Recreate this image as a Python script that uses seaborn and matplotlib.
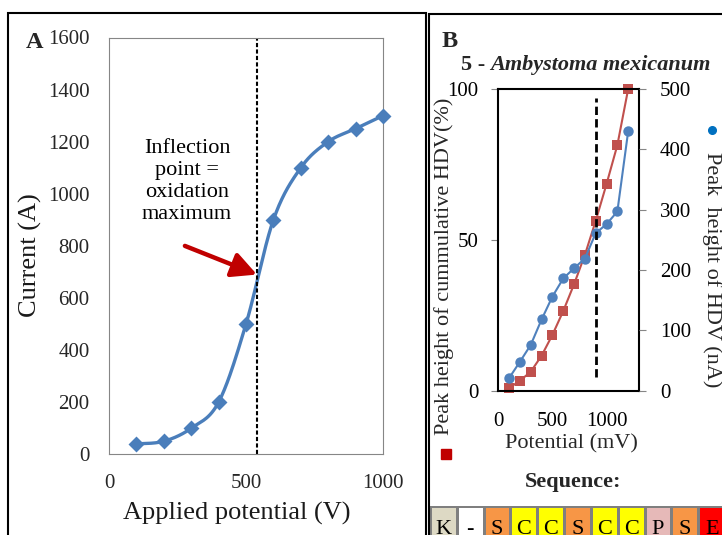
import numpy as np
import matplotlib
matplotlib.use("Agg")
import matplotlib.pyplot as plt
from matplotlib.colors import ListedColormap
from matplotlib.lines import Line2D
from matplotlib.patches import Rectangle
import seaborn as sns

# ---- Panel A: current response versus applied potential ----
potential_a = [100, 200, 300, 400, 500, 600, 700, 800, 900, 1000]
current_a = [40, 50, 100, 200, 500, 900, 1100, 1200, 1250, 1300]
inflection_a = 540
arrow_start = (277, 800)
arrow_end = (540, 690)
callout_xy = (285, 1047)
callout_text = "Inflection\npoint =\noxidation\nmaximum"

# ---- Panel B: HDV oxidation, Ambystoma mexicanum ----
potential_b = [100, 200, 300, 400, 500, 600, 700, 800, 900, 1000, 1100, 1200]
cumulative_pct = [0.9, 3.3, 6.3, 11.6, 18.5, 26.4, 35.3, 45.0, 56.3, 68.5, 81.4, 100.0]
peak_na = [21, 48, 76, 118, 156, 186, 203, 219, 261, 276, 297, 430]
threshold_b = 900

sequence = ["K", "-", "S", "C", "C", "S", "C", "C", "P", "S", "E"]
residue_colors = {"K": "#ddd9c4", "-": "#ffffff", "S": "#f79646",
                  "C": "#ffff00", "P": "#e6b9b8", "E": "#ff0000"}

W, H = 722, 535


def fx(px):
    return px / W


def fy(py):
    return 1 - py / H


def excel_smooth(x, y, steps=30):
    """Smoothed polyline through the points (cubic Bezier, Catmull-Rom handles)."""
    pts = np.column_stack([x, y]).astype(float)
    ext = np.vstack([pts[0], pts, pts[-1]])
    t = np.linspace(0, 1, steps)[:, None]
    segs = []
    for i in range(1, len(ext) - 2):
        p0, p1, p2, p3 = ext[i - 1], ext[i], ext[i + 1], ext[i + 2]
        c1 = p1 + (p2 - p0) / 6
        c2 = p2 - (p3 - p1) / 6
        seg = ((1 - t) ** 3) * p1 + 3 * ((1 - t) ** 2) * t * c1 \
            + 3 * (1 - t) * t ** 2 * c2 + t ** 3 * p2
        segs.append(seg if i == 1 else seg[1:])
    curve = np.vstack(segs)
    return curve[:, 0], curve[:, 1]


sns.set_style("white")
plt.rcParams["font.family"] = ["Liberation Serif", "DejaVu Serif"]

fig = plt.figure(figsize=(W / 100, H / 100), dpi=100)
fig.patch.set_facecolor("white")

# panel frames
fig.add_artist(Rectangle((fx(8), fy(560)), (425.5 - 8) / W, (560 - 12.6) / H,
                         transform=fig.transFigure, fill=False, lw=1.5, ec="black"))
fig.add_artist(Rectangle((fx(428.5), fy(560)), (760 - 428.5) / W, (560 - 13.5) / H,
                         transform=fig.transFigure, fill=False, lw=1.5, ec="black"))

# ---------------- Panel A ----------------
axA = fig.add_axes([fx(109), fy(454.3), (383 - 109) / W, (454.3 - 37.5) / H])
sx, sy = excel_smooth(potential_a, current_a)
sns.lineplot(x=sx, y=sy, ax=axA, color="#4a7ebb", lw=2.4, sort=False,
             estimator=None, errorbar=None, clip_on=False)
sns.scatterplot(x=potential_a, y=current_a, ax=axA, marker="D", s=66,
                color="#4a7ebb", linewidth=0, clip_on=False, zorder=3)
axA.axvline(inflection_a, color="black", lw=1.5, ls=(0, (2, 1.1)), zorder=2)
axA.annotate("", xy=arrow_end, xytext=arrow_start,
             arrowprops=dict(arrowstyle="-|>,head_length=0.75,head_width=0.38",
                             color="#c00000", lw=3.2, mutation_scale=20,
                             shrinkA=0, shrinkB=0), zorder=4)
axA.text(*callout_xy, callout_text, ha="center", va="center", fontsize=16,
         linespacing=1.2, color="black")
axA.set_xlim(0, 1000)
axA.set_ylim(0, 1600)
axA.set_xticks([0, 500, 1000])
axA.set_yticks(np.arange(0, 1601, 200))
for s in axA.spines.values():
    s.set_visible(True)
    s.set_color("#868686")
    s.set_linewidth(0.8)
axA.tick_params(direction="out", length=5, width=0.8, color="#868686",
                labelsize=15, labelcolor="#262626", pad=9)
axA.set_xlabel("Applied potential (V)", fontsize=19, va="baseline", color="#1a1a1a")
axA.xaxis.set_label_coords((236.7 - 109) / 274, (454.3 - 520) / 416.8)
axA.set_ylabel("Current (A)", fontsize=19, va="center", color="#1a1a1a")
axA.yaxis.set_label_coords((30 - 109) / 274, (454.3 - 255.6) / 416.8)
fig.text(fx(34.5), fy(47.5), "A", fontsize=17.5, fontweight="bold",
         ha="center", va="baseline")

# ---------------- Panel B ----------------
axB = fig.add_axes([fx(498.3), fy(390.7), (639 - 498.3) / W, (390.7 - 89) / H])
ax2 = axB.twinx()
sns.lineplot(x=potential_b, y=cumulative_pct, ax=axB, color="#c0504d", lw=1.5,
             marker="s", markersize=7, markeredgewidth=0, clip_on=False,
             estimator=None, errorbar=None)
sns.lineplot(x=potential_b, y=peak_na, ax=ax2, color="#4f81bd", lw=1.5,
             marker="o", markersize=7.5, markeredgewidth=0, clip_on=False,
             estimator=None, errorbar=None)
ax2.axvline(threshold_b, ymin=0.046, ymax=0.969, color="black", lw=2,
            ls=(0, (3, 1.5)), zorder=5)

axB.set_xlim(0, 1300)
axB.set_ylim(0, 100)
ax2.set_ylim(0, 500)
axB.set_xticks([0, 500, 1000])
axB.set_yticks([0, 50, 100])
ax2.set_yticks(np.arange(0, 501, 100))
for s in axB.spines.values():
    s.set_visible(True)
    s.set_color("black")
    s.set_linewidth(1.5)
for s in ax2.spines.values():
    s.set_visible(False)
axB.tick_params(axis="y", direction="out", length=5, width=0.8, color="#868686",
                labelsize=15, labelcolor="black", pad=9.5)
axB.tick_params(axis="x", direction="out", length=5, width=0.8, color="#868686",
                labelsize=15, labelcolor="black", pad=10)
ax2.tick_params(axis="y", direction="out", length=5, width=0.8, color="#868686",
                labelsize=15, labelcolor="black", pad=10)

axB.set_xlabel("Potential (mV)", fontsize=16, va="baseline")
axB.xaxis.set_label_coords((571.7 - 498.3) / 140.7, (390.7 - 448) / 301.7)
axB.set_ylabel("Peak height of cummulative HDV(%)", fontsize=16, va="center")
axB.yaxis.set_label_coords((444 - 498.3) / 140.7, (390.7 - 266.5) / 301.7)
ax2.set_ylabel("Peak  height of HDV (nA)", fontsize=16, rotation=-90,
               va="center", rotation_mode="anchor")
ax2.yaxis.set_label_coords((711.5 - 498.3) / 140.7, (390.7 - 270) / 301.7)

# series keys next to the axis titles
fig.add_artist(Line2D([fx(446)], [fy(454)], marker="s", markersize=7.5,
                      color="#c00000", linestyle="", transform=fig.transFigure))
fig.add_artist(Line2D([fx(712)], [fy(130)], marker="o", markersize=5.5,
                      color="#0070c0", linestyle="", transform=fig.transFigure))

fig.text(fx(450), fy(46.7), "B", fontsize=17.5, fontweight="bold",
         ha="center", va="baseline")
fig.text(fx(485), fy(70), "5 -", fontsize=16, fontweight="bold",
         ha="right", va="baseline")
fig.text(fx(490), fy(70), "Ambystoma mexicanum", fontsize=16, fontweight="bold",
         fontstyle="italic", ha="left", va="baseline")
fig.text(fx(573), fy(487.3), "Sequence:", fontsize=16, fontweight="bold",
         ha="center", va="baseline")

# sequence strip (runs off the lower edge of the canvas)
order = list(residue_colors.keys())
codes = np.array([[order.index(r) for r in sequence]])
letters = np.array([sequence])
cell_w = 26.83
axS = fig.add_axes([fx(430), fy(553.9), len(sequence) * cell_w / W, (553.9 - 505.7) / H])
sns.heatmap(codes, ax=axS, cmap=ListedColormap([residue_colors[r] for r in order]),
            vmin=-0.5, vmax=len(order) - 0.5, annot=letters, fmt="",
            annot_kws=dict(fontsize=16, color="black"), cbar=False,
            linewidths=0.8, linecolor="#7f7f7f", xticklabels=False, yticklabels=False)

fig.savefig("out.png", dpi=100)
